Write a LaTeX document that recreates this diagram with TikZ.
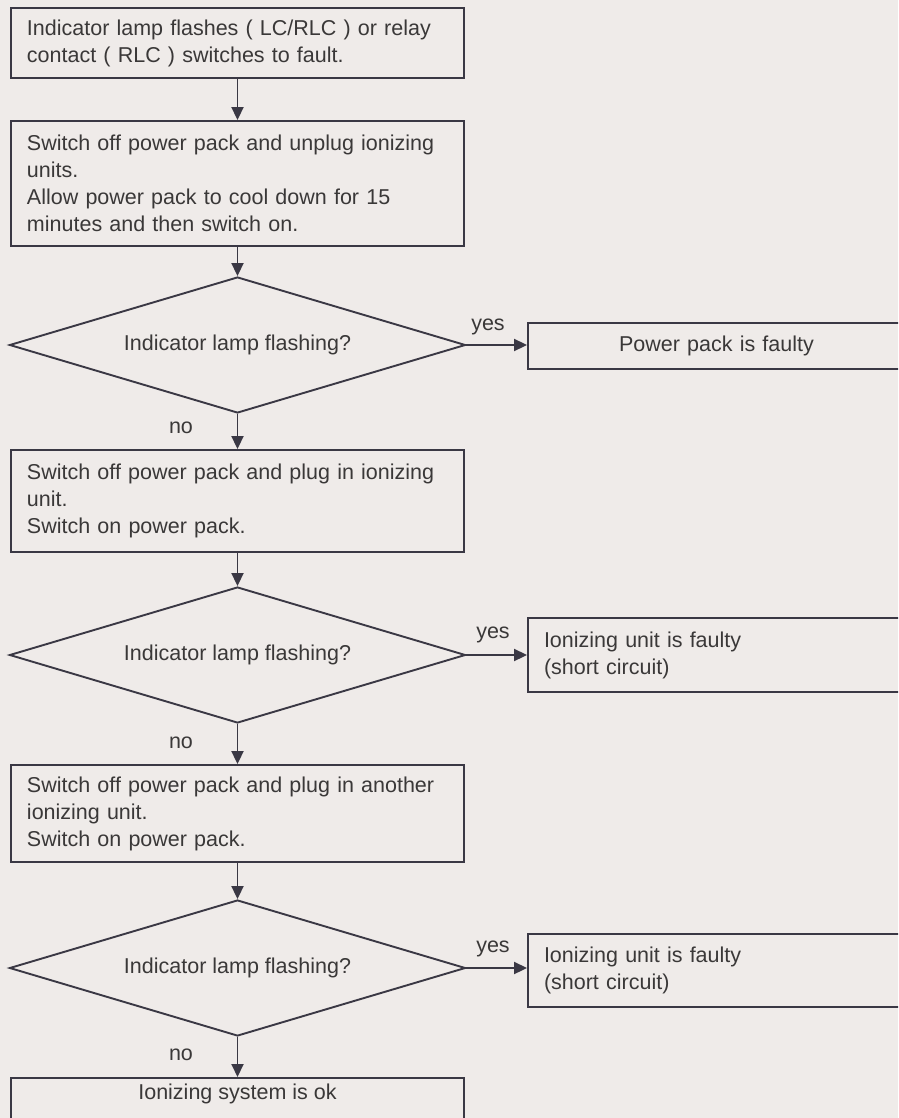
\documentclass[tikz,border=0pt]{standalone}
\usepackage{fontspec}
\setmainfont{Liberation Sans}
\usetikzlibrary{shapes.geometric,arrows.meta}
\definecolor{bg}{HTML}{EFEBE9}
\definecolor{ink}{HTML}{3A3844}
\definecolor{txt}{HTML}{3A3838}
\begin{document}
\begin{tikzpicture}[x=1pt,y=-1pt,
  every node/.style={font=\fontsize{21.5}{27}\selectfont, text=txt},
  box/.style={draw=ink, line width=1.9pt, rectangle, minimum width=453pt, inner xsep=16pt, inner ysep=0pt, align=left, text width=421pt},
  dec/.style={draw=ink, line width=1.9pt, diamond, shape aspect=3.35, minimum width=456pt, minimum height=136pt, inner sep=0pt},
  res/.style={draw=ink, line width=1.9pt, rectangle, minimum width=377pt, inner xsep=16pt, inner ysep=0pt, text width=345pt},
  arr/.style={draw=ink, line width=1.9pt, -{Triangle[length=13pt,width=12pt]}},
  lbl/.style={inner sep=0pt}
]
\fill[bg] (0,0) rectangle (898,1118);
\clip (0,0) rectangle (898,1118);

\node[box, minimum height=70pt] (b1) at (237.5,43) {Indicator lamp flashes ( LC/RLC ) or relay\\contact ( RLC ) switches to fault.};
\node[box, minimum height=125pt] (b2) at (237.5,183.5) {Switch off power pack and unplug ionizing\\units.\\Allow power pack to cool down for 15\\minutes and then switch on.};
\node[dec] (d1) at (237.5,345) {Indicator lamp flashing?};
\node[res, minimum height=46pt, align=center] (r1) at (716.5,346) {Power pack is faulty};
\node[box, minimum height=102pt] (b3) at (237.5,501) {Switch off power pack and plug in ionizing\\unit.\\Switch on power pack.};
\node[dec] (d2) at (237.5,655) {Indicator lamp flashing?};
\node[res, minimum height=74pt, align=left] (r2) at (716.5,655) {Ionizing unit is faulty\\(short circuit)};
\node[box, minimum height=97pt] (b4) at (237.5,813.5) {Switch off power pack and plug in another\\ionizing unit.\\Switch on power pack.};
\node[dec] (d3) at (237.5,968) {Indicator lamp flashing?};
\node[res, minimum height=73pt, align=left] (r3) at (716.5,970.5) {Ionizing unit is faulty\\(short circuit)};
\node[box, minimum height=90pt, anchor=north] (b5) at (237.5,1077) {};
\node[lbl] (b5t) at (237.5,1094) {Ionizing system is ok};

\node[lbl] (y1) at (488,327) {yes};
\node[lbl] (y2) at (493,635) {yes};
\node[lbl] (y3) at (493,949) {yes};
\node[lbl] (n1) at (181,428) {no};
\node[lbl] (n2) at (181,743) {no};
\node[lbl] (n3) at (181,1055) {no};

\draw[arr] (b1.south) -- (b2.north);
\draw[arr] (b2.south) -- (d1.north);
\draw[arr] (d1.east) -- (d1.east -| r1.west);
\draw[arr] (d1.south) -- (b3.north);
\draw[arr] (b3.south) -- (d2.north);
\draw[arr] (d2.east) -- (d2.east -| r2.west);
\draw[arr] (d2.south) -- (b4.north);
\draw[arr] (b4.south) -- (d3.north);
\draw[arr] (d3.east) -- (d3.east -| r3.west);
\draw[arr] (d3.south) -- (b5.north);
\end{tikzpicture}
\end{document}
